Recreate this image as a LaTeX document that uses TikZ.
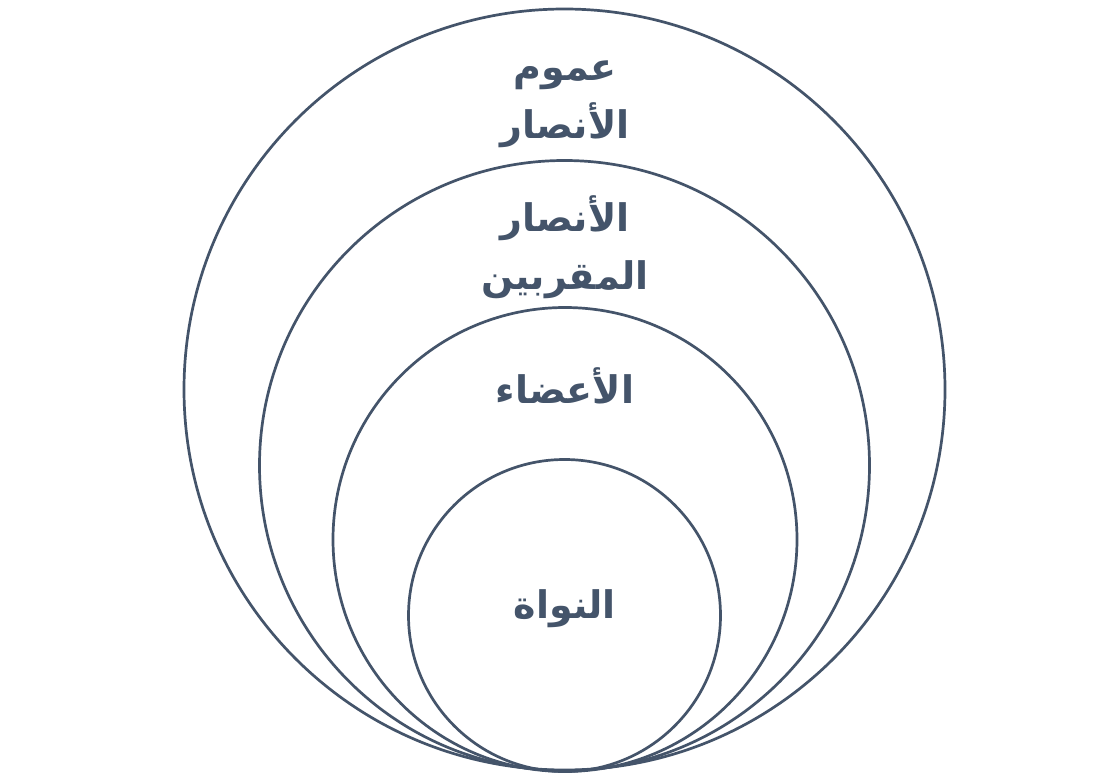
\documentclass[tikz,border=0pt]{standalone}
\usepackage{fontspec}
\TeXXeTstate=1
\newfontfamily\arabicfont[Script=Arabic]{DejaVu Sans}
\definecolor{slate}{HTML}{44546A}
\begin{document}
\begin{tikzpicture}[x=1pt,y=-1pt,
  ring/.style={draw=slate,line width=2.7pt},
  lbl/.style={text=slate,font=\arabicfont\bfseries\fontsize{38}{58}\selectfont,align=center,inner sep=0pt}]
\useasboundingbox (0,0) rectangle (1095,773);
\fill[white] (0,0) rectangle (1095,773);
\draw[ring] (564.5,389.5) circle[radius=380.5];
\draw[ring] (564.5,465.5) circle[radius=305];
\draw[ring] (565,539.5) circle[radius=232];
\draw[ring] (564.5,615.5) circle[radius=156];
\node[lbl] (outer) at (565,104) {\beginR عموم\endR\\\beginR الأنصار\endR};
\node[lbl] (second) at (565,247) {\beginR الأنصار\endR\\\beginR المقربين\endR};
\node[lbl] (third) at (565,386) {\beginR الأعضاء\endR};
\node[lbl] (core) at (565,609) {\beginR النواة\endR};
\end{tikzpicture}
\end{document}
